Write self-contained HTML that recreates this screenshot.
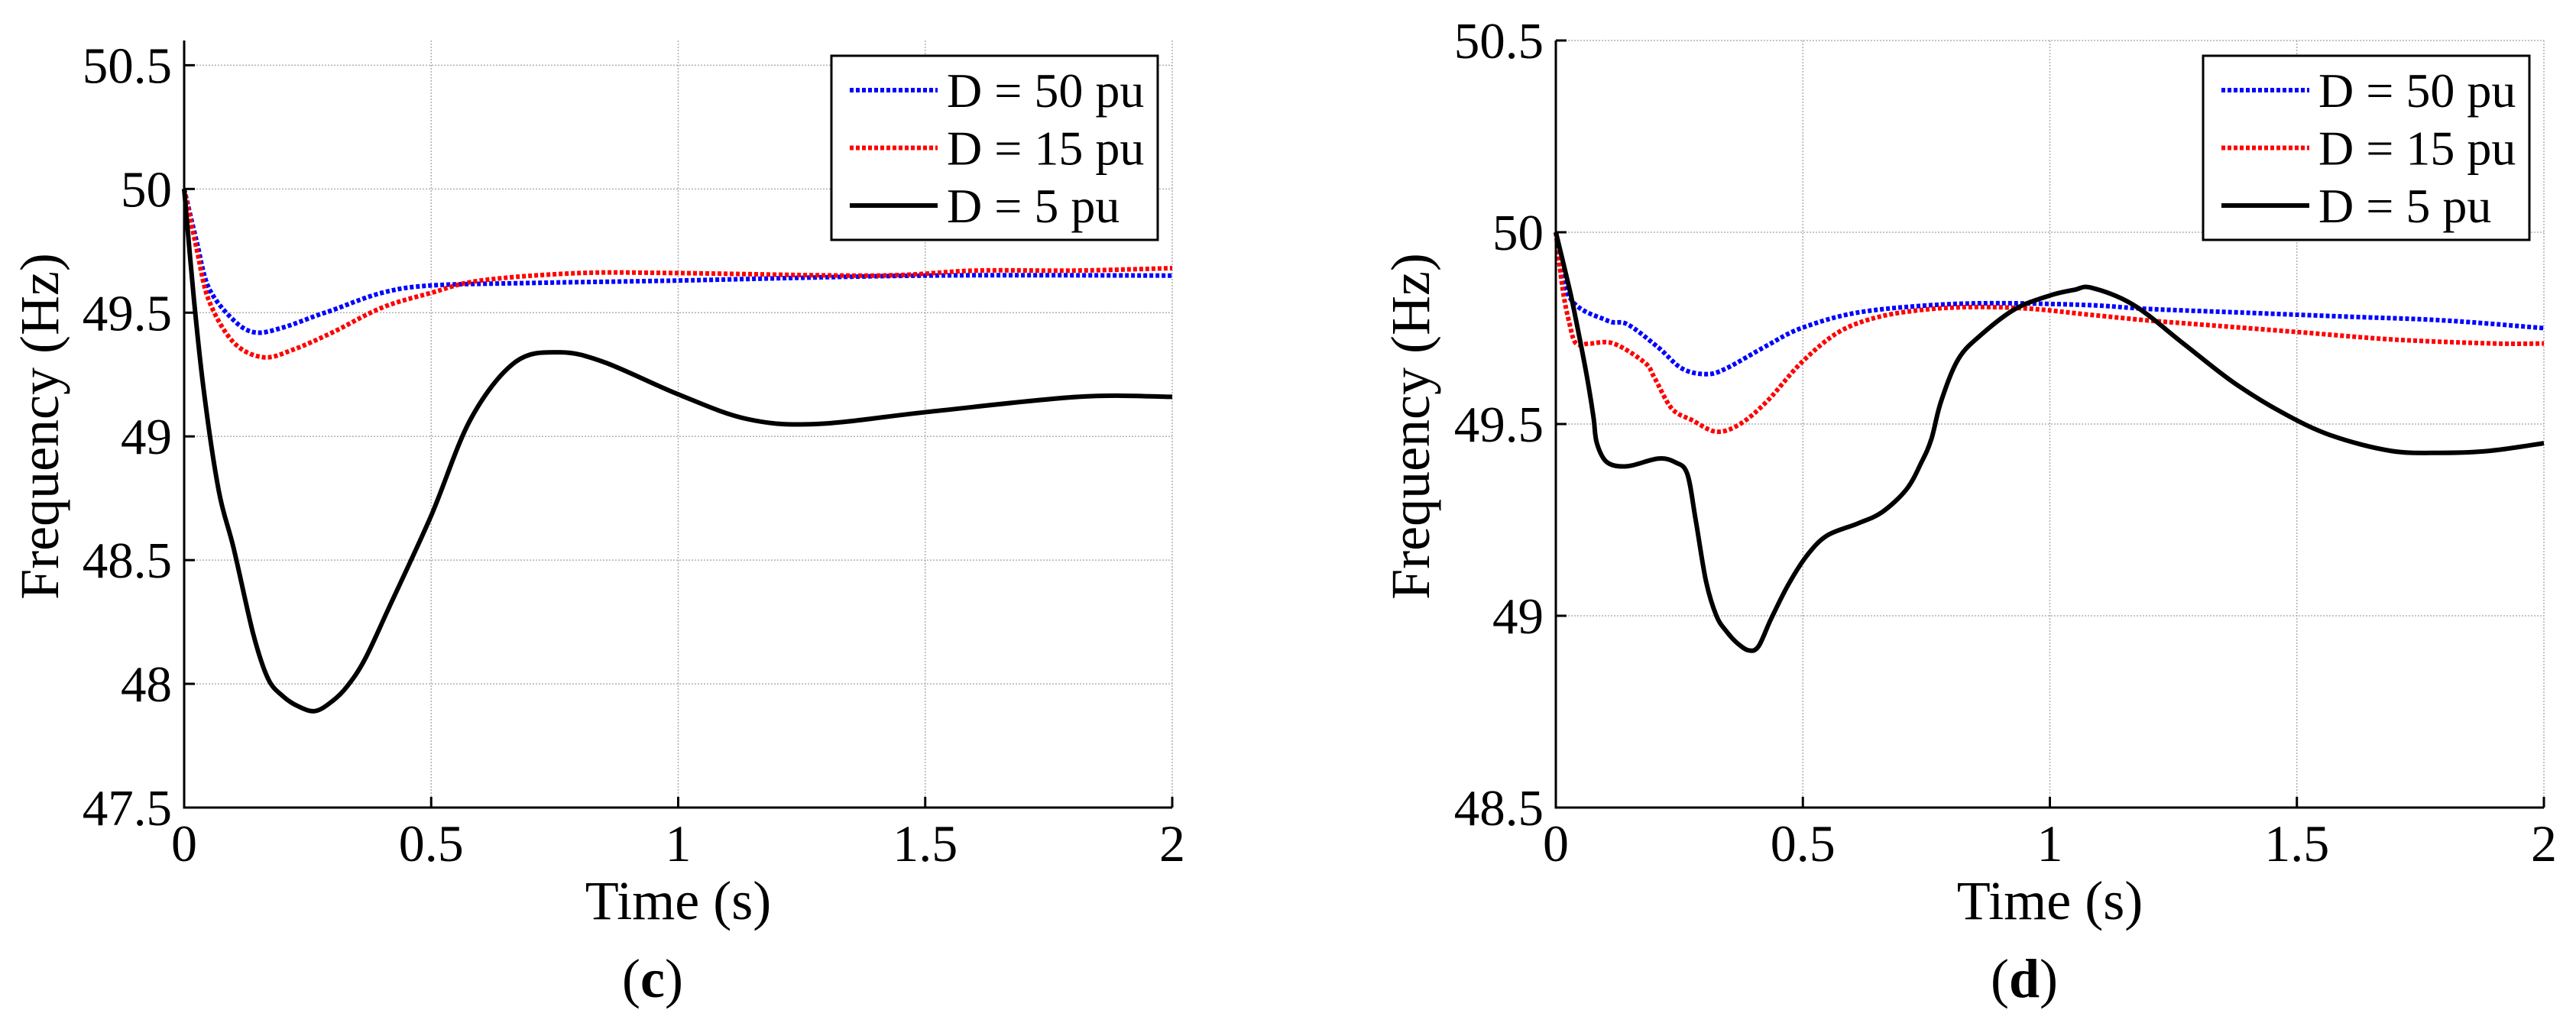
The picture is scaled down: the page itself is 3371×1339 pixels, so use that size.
<!DOCTYPE html>
<html><head><meta charset="utf-8">
<style>
html,body{margin:0;padding:0;background:#fff;}
svg{display:block;font-family:"Liberation Serif",serif;}
</style></head>
<body>
<svg id="chart" xmlns="http://www.w3.org/2000/svg" width="3371" height="1339" viewBox="0 0 3371 1339"></svg>
<script>
// ---- data: panel (c) ----
const cTime50 = [0,0.025,0.05,0.1,0.144,0.2,0.27,0.3,0.4,0.5,0.7,1.0,1.5,2.0];
const cFreq50 = [50,49.79,49.6,49.47,49.42,49.44,49.49,49.51,49.58,49.61,49.62,49.63,49.65,49.65];
const cTime15 = [0,0.025,0.05,0.1,0.16,0.22,0.3,0.4,0.5,0.6,0.8,1.0,1.4,1.6,1.8,2.0];
const cFreq15 = [50,49.76,49.55,49.38,49.32,49.35,49.42,49.52,49.58,49.63,49.66,49.66,49.65,49.67,49.67,49.68];
const cTime5 = [0,0.02,0.04,0.07,0.1,0.14,0.17,0.2,0.23,0.265,0.3,0.33,0.366,0.415,0.5,0.58,0.67,0.76,0.85,1.0,1.14,1.28,1.51,1.81,2.0];
const cFreq5 = [50,49.55,49.18,48.78,48.55,48.2,48.02,47.95,47.91,47.89,47.93,47.99,48.1,48.31,48.68,49.07,49.3,49.34,49.3,49.17,49.07,49.05,49.1,49.16,49.16];
// ---- data: panel (d) ----
const dTime50 = [0,0.028,0.104,0.145,0.207,0.255,0.304,0.345,0.428,0.497,0.608,0.76,0.9,1.08,1.2,1.4,1.6,1.8,2.0];
const dFreq50 = [50,49.83,49.77,49.76,49.70,49.645,49.63,49.645,49.705,49.75,49.79,49.81,49.815,49.81,49.8,49.79,49.78,49.77,49.75];
const dTime15 = [0,0.014,0.028,0.041,0.069,0.117,0.18,0.2,0.235,0.276,0.325,0.373,0.428,0.497,0.573,0.656,0.76,0.863,0.967,1.08,1.2,1.3,1.5,1.7,1.9,2.0];
const dFreq15 = [50,49.85,49.76,49.71,49.71,49.71,49.66,49.62,49.54,49.51,49.48,49.50,49.56,49.66,49.74,49.78,49.80,49.805,49.80,49.785,49.77,49.76,49.74,49.72,49.71,49.71];
const dTime5 = [0,0.028,0.041,0.062,0.076,0.083,0.104,0.145,0.207,0.242,0.266,0.283,0.304,0.325,0.345,0.366,0.39,0.41,0.435,0.47,0.51,0.55,0.61,0.66,0.71,0.74,0.76,0.78,0.815,0.863,0.93,1.0,1.05,1.085,1.17,1.27,1.37,1.47,1.57,1.69,1.79,1.89,2.0];
const dFreq5 = [50,49.85,49.77,49.63,49.52,49.45,49.40,49.39,49.41,49.40,49.37,49.25,49.09,49.0,48.96,48.93,48.91,48.92,48.99,49.08,49.16,49.21,49.24,49.27,49.33,49.40,49.46,49.56,49.67,49.735,49.80,49.835,49.85,49.855,49.81,49.71,49.61,49.53,49.47,49.43,49.425,49.43,49.45];
const xTicks = [0,0.5,1,1.5,2];
const xTickLabels = ["0","0.5","1","1.5","2"];
const cYTicks = [47.5,48,48.5,49,49.5,50,50.5];
const cYTickLabels = ["47.5","48","48.5","49","49.5","50","50.5"];
const dYTicks = [48.5,49,49.5,50,50.5];
const dYTickLabels = ["48.5","49","49.5","50","50.5"];
const legendLabels = ["D = 50 pu","D = 15 pu","D = 5 pu"];

const NS="http://www.w3.org/2000/svg";
const svg=document.getElementById('chart');
function mk(tag,attrs,parent){const e=document.createElementNS(NS,tag);for(const k in attrs)e.setAttribute(k,attrs[k]);(parent||svg).appendChild(e);return e;}

const styles=[
 {stroke:"#0000ff",w:6,dash:"5 3"},
 {stroke:"#ff0000",w:6,dash:"5 3"},
 {stroke:"#000000",w:6,dash:null}
];

function smoothPath(pts){
  let d='M'+pts[0][0].toFixed(1)+' '+pts[0][1].toFixed(1);
  for(let i=0;i<pts.length-1;i++){
    const p0=pts[Math.max(0,i-1)],p1=pts[i],p2=pts[i+1],p3=pts[Math.min(pts.length-1,i+2)];
    const c1x=p1[0]+(p2[0]-p0[0])/6,c1y=p1[1]+(p2[1]-p0[1])/6;
    const c2x=p2[0]-(p3[0]-p1[0])/6,c2y=p2[1]-(p3[1]-p1[1])/6;
    d+=` C${c1x.toFixed(1)} ${c1y.toFixed(1)} ${c2x.toFixed(1)} ${c2y.toFixed(1)} ${p2[0].toFixed(1)} ${p2[1].toFixed(1)}`;
  }
  return d;
}

function panel(cfg){
  const g=mk('g',{});
  
  
  const X=t=>cfg.x0+(t-0)/(2-0)*(cfg.x1-cfg.x0);
  const Y=f=>cfg.yb-(f-cfg.ymin)/(cfg.ymax-cfg.ymin)*(cfg.yb-cfg.yt);
  xTicks.forEach((t,i)=>{
    if(i===0)return;
    const l=mk('line',{x1:X(t),x2:X(t),y1:cfg.yt,y2:cfg.yb,stroke:"#b0b0b0","stroke-width":1.5,"stroke-dasharray":"2 2"},g);
    
    
  });
  cfg.yTicks.forEach(v=>{
    if(Y(v)>=cfg.yb-1)return;
    const l=mk('line',{x1:cfg.x0,x2:cfg.x1,y1:Y(v),y2:Y(v),stroke:"#b0b0b0","stroke-width":1.5,"stroke-dasharray":"2 2"},g);
    
    
  });
  cfg.series.forEach((s,i)=>{
    const st=styles[i];
    const pts=s.t.map((t,j)=>[X(t),Y(s.f[j])]);
    const p=mk('path',{d:smoothPath(pts),fill:"none",stroke:st.stroke,"stroke-width":st.w,"stroke-linejoin":"round"},g);
    if(st.dash)p.setAttribute('stroke-dasharray',st.dash);
    
    
  });
  const ax=mk('path',{d:`M${cfg.x0} ${cfg.yt} L${cfg.x0} ${cfg.yb} L${cfg.x1} ${cfg.yb}`,fill:"none",stroke:"#000","stroke-width":3},g);
  
  
  xTicks.forEach((t,i)=>{
    mk('line',{x1:X(t),x2:X(t),y1:cfg.yb,y2:cfg.yb-14,stroke:"#000","stroke-width":3},g);
    const tx=mk('text',{x:X(t),y:cfg.yb+70,"font-size":68,"text-anchor":"middle",fill:"#000"},g);
    tx.textContent=xTickLabels[i];
    
    
  });
  cfg.yTicks.forEach((v,i)=>{
    mk('line',{x1:cfg.x0,x2:cfg.x0+14,y1:Y(v),y2:Y(v),stroke:"#000","stroke-width":3},g);
    const tx=mk('text',{x:cfg.x0-16,y:Y(v)+23,"font-size":67,"text-anchor":"end",fill:"#000"},g);
    tx.textContent=cfg.yLabels[i];
    
    
  });
  const xt=mk('text',{x:(cfg.x0+cfg.x1)/2,y:1203,"font-size":72,"text-anchor":"middle",fill:"#000"},g);
  xt.textContent="Time (s)";
  
  
  const yt=mk('text',{x:0,y:0,"font-size":72,"text-anchor":"middle",fill:"#000",transform:`translate(${cfg.ylabX},558) rotate(-90)`},g);
  yt.textContent="Frequency (Hz)";
  
  
  const cap=mk('text',{x:cfg.capX,y:1305,"font-size":72,"text-anchor":"middle",fill:"#000"},g);
  cap.innerHTML='(<tspan font-weight="bold">'+cfg.caption+'</tspan>)';
  
  
  const lg=mk('g',{},g);
  
  
  mk('rect',{x:cfg.lx,y:73,width:427,height:241,fill:"#fff",stroke:"#000","stroke-width":3},lg);
  legendLabels.forEach((lab,i)=>{
    const ry=118+i*75.5;
    const st=styles[i];
    const ln=mk('line',{x1:cfg.lx+24,x2:cfg.lx+139,y1:ry,y2:ry,stroke:st.stroke,"stroke-width":st.w},lg);
    if(st.dash)ln.setAttribute('stroke-dasharray',st.dash);
    const tx=mk('text',{x:cfg.lx+151,y:ry+22,"font-size":64,fill:"#000"},lg);
    tx.textContent=lab;
    
    
  });
}

panel({name:'panel-c',x0:241,x1:1534,yt:53,yb:1057,ymin:47.5,ymax:50.6,yTicks:cYTicks,yLabels:cYTickLabels,
  ylabX:76,caption:'c',lx:1088,capX:854,
  series:[{t:cTime50,f:cFreq50},{t:cTime15,f:cFreq15},{t:cTime5,f:cFreq5}]});
panel({name:'panel-d',x0:2036,x1:3329,yt:53,yb:1057,ymin:48.5,ymax:50.5,yTicks:dYTicks,yLabels:dYTickLabels,
  ylabX:1870,caption:'d',lx:2883,capX:2649,
  series:[{t:dTime50,f:dFreq50},{t:dTime15,f:dFreq15},{t:dTime5,f:dFreq5}]});
</script>
</body></html>
